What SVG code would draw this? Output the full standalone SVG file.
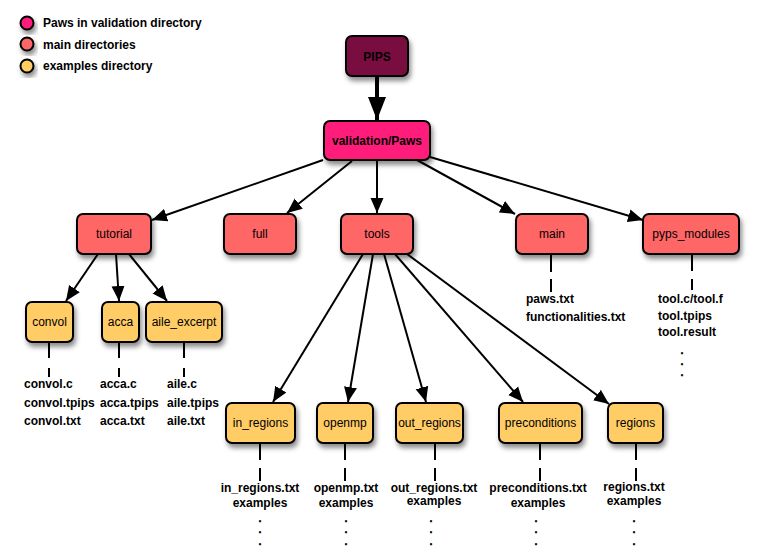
<svg xmlns="http://www.w3.org/2000/svg" width="759" height="557" viewBox="0 0 759 557">
<style>
.nd{stroke:#000;stroke-width:2}
.pips{fill:#7a0f3f}
.paws{fill:#ff1a7a}
.main{fill:#ff6666}
.ex{fill:#ffcc66}
.lbl{font-family:"Liberation Sans",Arial,sans-serif;font-size:12px;fill:#000;text-anchor:middle}
.b{font-weight:bold}
.f{font-family:"Liberation Sans",Arial,sans-serif;font-size:12px;font-weight:bold;fill:#000}
.c{text-anchor:middle}
.d{font-family:"Liberation Sans",Arial,sans-serif;font-size:9px;font-weight:bold;fill:#000;stroke:#000;stroke-width:0.7;text-anchor:middle}
.e{stroke:#000;stroke-width:2;fill:none}
.t{stroke:#000;stroke-width:2}
</style>
<defs>
<filter id="sh" x="-30%" y="-30%" width="160%" height="170%">
<feDropShadow dx="2" dy="4" stdDeviation="2.5" flood-color="#000" flood-opacity="0.45"/>
</filter>
<marker id="ah" markerUnits="userSpaceOnUse" markerWidth="16" markerHeight="14" refX="15" refY="6.5" orient="auto" viewBox="0 0 16 13">
<path d="M0,0 L15,6.5 L0,13 z" fill="#000"/>
</marker>
<marker id="big" markerUnits="userSpaceOnUse" markerWidth="24" markerHeight="20" refX="23" refY="9" orient="auto" viewBox="0 0 24 18">
<path d="M0,0 L23,9 L0,18 z" fill="#000"/>
</marker>
</defs>
<rect width="759" height="557" fill="#fff"/>

<g id="legend">
<circle cx="27" cy="23" r="6.5" class="nd paws" filter="url(#sh)"/>
<circle cx="27" cy="44" r="6.5" class="nd main" filter="url(#sh)"/>
<circle cx="27" cy="66" r="6.5" class="nd ex" filter="url(#sh)"/>
<text x="43" y="27" class="f">Paws in validation directory</text>
<text x="43" y="49" class="f">main directories</text>
<text x="43" y="70" class="f">examples directory</text>
</g>

<g id="connectors">
<line x1="377" y1="76" x2="377" y2="120" stroke="#000" stroke-width="4" marker-end="url(#big)"/>
<line x1="323" y1="160" x2="152" y2="220" class="e" marker-end="url(#ah)"/>
<line x1="352" y1="161" x2="287" y2="213" class="e" marker-end="url(#ah)"/>
<line x1="377" y1="161" x2="377" y2="213" class="e" marker-end="url(#ah)"/>
<line x1="417" y1="160" x2="515" y2="214" class="e" marker-end="url(#ah)"/>
<line x1="430" y1="157" x2="643" y2="220" class="e" marker-end="url(#ah)"/>
<line x1="98" y1="254" x2="66" y2="301" class="e" marker-end="url(#ah)"/>
<line x1="116" y1="254" x2="119" y2="301" class="e" marker-end="url(#ah)"/>
<line x1="129" y1="254" x2="167" y2="301" class="e" marker-end="url(#ah)"/>
<line x1="363" y1="254" x2="273" y2="402" class="e" marker-end="url(#ah)"/>
<line x1="373" y1="254" x2="348" y2="402" class="e" marker-end="url(#ah)"/>
<line x1="384" y1="254" x2="426" y2="402" class="e" marker-end="url(#ah)"/>
<line x1="395" y1="254" x2="523" y2="402" class="e" marker-end="url(#ah)"/>
<line x1="407" y1="254" x2="609" y2="404" class="e" marker-end="url(#ah)"/>
</g>

<g id="n-pips"><rect x="346" y="36" width="62" height="40" rx="6" class="nd pips" filter="url(#sh)"/><text x="377" y="61" class="lbl b">PIPS</text></g>
<g id="n-paws"><rect x="324" y="121" width="106" height="39" rx="6" class="nd paws" filter="url(#sh)"/><text x="377" y="145" class="lbl b">validation/Paws</text></g>

<g id="n-tutorial"><rect x="77" y="214" width="74" height="40" rx="6" class="nd main" filter="url(#sh)"/><text x="114" y="238" class="lbl">tutorial</text></g>
<g id="n-full"><rect x="224" y="214" width="72" height="40" rx="6" class="nd main" filter="url(#sh)"/><text x="260" y="238" class="lbl">full</text></g>
<g id="n-tools"><rect x="341" y="214" width="72" height="40" rx="6" class="nd main" filter="url(#sh)"/><text x="377" y="238" class="lbl">tools</text></g>
<g id="n-main"><rect x="516" y="214" width="72" height="40" rx="6" class="nd main" filter="url(#sh)"/><text x="552" y="238" class="lbl">main</text>
<line x1="551" y1="254" x2="551" y2="272" class="t"/><line x1="551" y1="279" x2="551" y2="292" class="t"/>
<text x="526" y="303" class="f">paws.txt</text><text x="526" y="321" class="f">functionalities.txt</text></g>
<g id="n-pyps"><rect x="643" y="214" width="96" height="40" rx="6" class="nd main" filter="url(#sh)"/><text x="691" y="238" class="lbl">pyps_modules</text>
<line x1="692" y1="254" x2="692" y2="271" class="t"/><line x1="692" y1="279" x2="692" y2="290" class="t"/>
<text x="658" y="303" class="f">tool.c/tool.f</text><text x="658" y="320" class="f">tool.tpips</text><text x="658" y="336" class="f">tool.result</text>
<text class="d"><tspan x="682" y="354">.</tspan><tspan x="682" y="365">.</tspan><tspan x="682" y="376">.</tspan></text></g>

<g id="n-convol"><rect x="26" y="302" width="47" height="40" rx="6" class="nd ex" filter="url(#sh)"/><text x="49.5" y="326" class="lbl">convol</text>
<line x1="49" y1="342" x2="49" y2="358" class="t"/><line x1="49" y1="368" x2="49" y2="377" class="t"/>
<text x="24" y="388" class="f">convol.c</text><text x="24" y="407" class="f">convol.tpips</text><text x="24" y="425" class="f">convol.txt</text></g>
<g id="n-acca"><rect x="102" y="302" width="37" height="40" rx="6" class="nd ex" filter="url(#sh)"/><text x="120.5" y="326" class="lbl">acca</text>
<line x1="119" y1="342" x2="119" y2="358" class="t"/><line x1="119" y1="368" x2="119" y2="377" class="t"/>
<text x="100" y="388" class="f">acca.c</text><text x="100" y="407" class="f">acca.tpips</text><text x="100" y="425" class="f">acca.txt</text></g>
<g id="n-aile"><rect x="146" y="302" width="76" height="40" rx="6" class="nd ex" filter="url(#sh)"/><text x="184" y="326" class="lbl">aile_excerpt</text>
<line x1="184" y1="342" x2="184" y2="358" class="t"/><line x1="184" y1="368" x2="184" y2="377" class="t"/>
<text x="167" y="388" class="f">aile.c</text><text x="167" y="407" class="f">aile.tpips</text><text x="167" y="425" class="f">aile.txt</text></g>

<g id="n-in_regions"><rect x="226" y="403" width="69" height="40" rx="6" class="nd ex" filter="url(#sh)"/><text x="260.5" y="427" class="lbl">in_regions</text>
<line x1="260" y1="443" x2="260" y2="460" class="t"/><line x1="260" y1="468" x2="260" y2="481" class="t"/>
<text x="260" y="492" class="f c">in_regions.txt</text><text x="260" y="507" class="f c">examples</text>
<text class="d"><tspan x="260" y="522">.</tspan><tspan x="260" y="533">.</tspan><tspan x="260" y="545">.</tspan></text></g>
<g id="n-openmp"><rect x="317" y="403" width="56" height="40" rx="6" class="nd ex" filter="url(#sh)"/><text x="345" y="427" class="lbl">openmp</text>
<line x1="345" y1="443" x2="345" y2="460" class="t"/><line x1="345" y1="468" x2="345" y2="481" class="t"/>
<text x="346" y="492" class="f c">openmp.txt</text><text x="346" y="507" class="f c">examples</text>
<text class="d"><tspan x="346" y="522">.</tspan><tspan x="346" y="533">.</tspan><tspan x="346" y="545">.</tspan></text></g>
<g id="n-out_regions"><rect x="396" y="403" width="67" height="40" rx="6" class="nd ex" filter="url(#sh)"/><text x="429.5" y="427" class="lbl">out_regions</text>
<line x1="435" y1="443" x2="435" y2="460" class="t"/><line x1="435" y1="468" x2="435" y2="481" class="t"/>
<text x="434" y="492" class="f c">out_regions.txt</text><text x="434" y="505" class="f c">examples</text>
<text class="d"><tspan x="431" y="522">.</tspan><tspan x="431" y="533">.</tspan><tspan x="431" y="545">.</tspan></text></g>
<g id="n-preconditions"><rect x="499" y="403" width="83" height="40" rx="6" class="nd ex" filter="url(#sh)"/><text x="540.5" y="427" class="lbl">preconditions</text>
<line x1="540" y1="443" x2="540" y2="460" class="t"/><line x1="540" y1="468" x2="540" y2="481" class="t"/>
<text x="538" y="492" class="f c">preconditions.txt</text><text x="538" y="507" class="f c">examples</text>
<text class="d"><tspan x="536" y="522">.</tspan><tspan x="536" y="533">.</tspan><tspan x="536" y="545">.</tspan></text></g>
<g id="n-regions"><rect x="608" y="403" width="55" height="40" rx="6" class="nd ex" filter="url(#sh)"/><text x="635.5" y="427" class="lbl">regions</text>
<line x1="636" y1="443" x2="636" y2="460" class="t"/><line x1="636" y1="468" x2="636" y2="481" class="t"/>
<text x="634" y="491" class="f c">regions.txt</text><text x="634" y="505" class="f c">examples</text>
<text class="d"><tspan x="634" y="522">.</tspan><tspan x="634" y="533">.</tspan><tspan x="634" y="545">.</tspan></text></g>
</svg>
